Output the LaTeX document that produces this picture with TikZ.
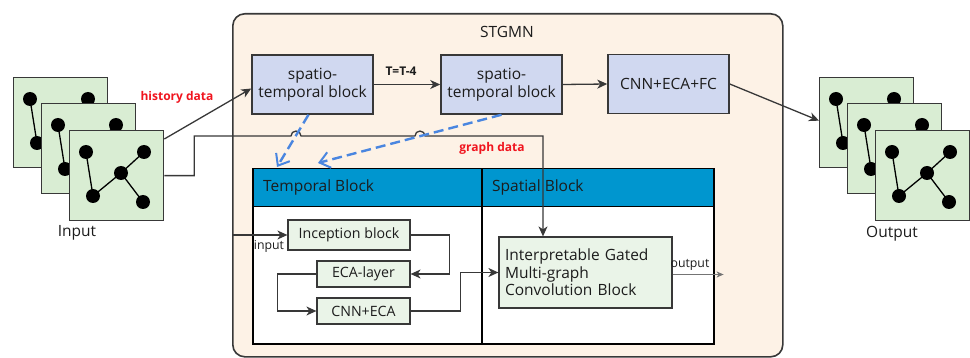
\documentclass[tikz,border=0pt]{standalone}
\usepackage{fontspec}
\setmainfont{Open Sans}
\usetikzlibrary{arrows.meta,calc}

\definecolor{peach}{HTML}{FDF2E6}
\definecolor{blockblue}{HTML}{D0D8F0}
\definecolor{cardgreen}{HTML}{D9EDD3}
\definecolor{boxgreen}{HTML}{EAF4E8}
\definecolor{hdrblue}{HTML}{0096CF}
\definecolor{ink}{HTML}{383838}
\definecolor{txt}{HTML}{1C1C1C}
\definecolor{dashblue}{HTML}{4A86E0}
\definecolor{hotred}{HTML}{F0141E}

\newcommand{\fs}[1]{\fontsize{#1}{17.5}\selectfont}

\begin{document}
\begin{tikzpicture}[x=1pt,y=-1pt,
  line/.style={draw=ink,line width=1.3pt},
  arr/.style={line,-{Stealth[length=10pt,width=9pt,inset=3pt]}},
  stblock/.style={draw=ink,line width=1.5pt,fill=blockblue,minimum width=121pt,
    minimum height=59pt,align=center,inner sep=0pt,font=\fs{15.5},text=txt},
  card/.style={draw=ink,line width=1.3pt,fill=cardgreen,minimum width=94pt,
    minimum height=90pt,inner sep=0pt},
  gbox/.style={draw=ink,line width=1.2pt,fill=boxgreen,inner sep=0pt,font=\fs{14.2},text=txt},
  hdr/.style={draw=black,line width=1.5pt,fill=hdrblue,inner sep=0pt},
  body/.style={draw=black,line width=1.5pt,fill=white,inner sep=0pt},
  lbl/.style={inner sep=0pt,text=txt},
  redlbl/.style={inner sep=0pt,text=hotred,font=\fs{12}\bfseries},
  bluedash/.style={draw=dashblue,line width=2.4pt,dash pattern=on 10pt off 5pt,
    -{Straight Barb[length=10pt,width=16pt,line width=2pt]}},
]
\useasboundingbox (0,0) rectangle (970,358);

% graph snapshot cards
\newcommand{\graphcard}[3]{%
  \node[card,anchor=north west] (#1) at (#2,#3) {};
  \begin{scope}[shift={(#2,#3)}]
    \draw[black,line width=1.3pt] (17,22) -- (24,66) -- (52,43) -- (75,22)
      (52,43) -- (74,72);
    \fill[black] (17,22) circle[radius=7pt] (75,22) circle[radius=7pt]
      (52,43) circle[radius=7pt] (24,66) circle[radius=7pt]
      (74,72) circle[radius=7pt];
  \end{scope}}

\graphcard{in1}{13}{77}
\graphcard{in2}{41}{103}
\graphcard{in3}{69}{130}
\node[lbl,font=\fs{15.5}] (inputlbl) at (77,233) {Input};

\graphcard{out1}{819}{77}
\graphcard{out2}{847}{103}
\graphcard{out3}{875}{130}
\node[lbl,font=\fs{15.5}] (outputlbl) at (892,234) {Output};

% STGMN frame
\node[draw=ink,line width=1.6pt,fill=peach,rounded corners=12pt,
  minimum width=550pt,minimum height=343pt,anchor=north west,inner sep=0pt]
  (stg) at (232,13) {};
\node[lbl,font=\fs{15.5}] (stglbl) at (507,32) {STGMN};

% top row
\node[stblock] (b1) at (312.5,84.5) {spatio-\\temporal block};
\node[stblock] (b2) at (501.5,84.5) {spatio-\\temporal block};
\node[stblock] (b3) at (668.5,84) {CNN+ECA+FC};

\draw[arr] ($(in3.north east)+(0,9)$) -- ($(b1.west)+(0,4)$);
\node[redlbl] (histlbl) at (177,97) {history data};
\draw[arr] (b1.east) -- (b2.west);
\node[lbl,font=\fs{12}\bfseries] (tlbl) at (401,71) {T=T-4};
\draw[arr] (b2.east) -- (b3.west);
\draw[arr] (b3.east) -- ($(out1.west)+(0,-2)$);

% temporal / spatial table
\node[hdr,anchor=north west,minimum width=229pt,minimum height=38pt] (th) at (252,168) {};
\node[hdr,anchor=north west,minimum width=232pt,minimum height=38pt] (sh) at (481,168) {};
\node[body,anchor=north west,minimum width=229pt,minimum height=137pt] (tb) at (252,206) {};
\node[body,anchor=north west,minimum width=232pt,minimum height=137pt] (sb) at (481,206) {};
\node[lbl,anchor=west,font=\fs{15.5}] (thl) at (263,187) {Temporal Block};
\node[lbl,anchor=west,font=\fs{15.5}] (shl) at (492,187) {Spatial Block};

\node[gbox,minimum width=122pt,minimum height=30pt] (inc) at (349,235) {Inception block};
\node[gbox,minimum width=93pt,minimum height=26pt] (eca) at (363.5,274) {ECA-layer};
\node[gbox,minimum width=93pt,minimum height=26pt] (cnn) at (363.5,311) {CNN+ECA};
\node[gbox,minimum width=173pt,minimum height=71pt,text width=161pt,align=left,
  inner xsep=6pt,font=\fs{15.5}] (igm) at (585.5,272.5)
  {Interpretable Gated\\Multi-graph\\Convolution Block};

\draw[arr] (stg.west |- inc.west) -- (inc.west);
\node[lbl,font=\fs{12.3}] (inlbl) at (269,246) {input};
\draw[arr] (inc.east) -- ++(39,0) |- (eca.east);
\draw[arr] (eca.west) -- ++(-39,0) |- (cnn.west);
\draw[arr] (cnn.east) -- ++(50,0) |- (igm.west);
\coordinate (outend) at ($(igm.east)+(51,2)$);
\draw[draw=ink!70,line width=1pt,-{Stealth[length=7pt,width=6pt,inset=2pt]}]
  ($(igm.east)+(0,2)$) -- (outend);
\node[lbl,font=\fs{12.3}] (outlbl) at (690,265) {output};

% graph data feed with line hops
\coordinate (gx) at (543,136);
\draw[arr] (in3.east) -- ++(30,0) |- (291,136)
  arc[start angle=180,end angle=0,radius=5pt] -- (415,136)
  arc[start angle=180,end angle=0,radius=5pt] -- (gx) -- (gx |- igm.north);
\node[redlbl] (graphlbl) at (492,148) {graph data};

% dashed feedback from the spatio-temporal blocks
\coordinate (tA) at (277,167);
\coordinate (tB) at (318,163);
\draw[bluedash] ($(b1.south)+(-4,0)$) -- (tA);
\draw[bluedash] ($(b2.south)+(0,0)$) -- (tB);
\end{tikzpicture}
\end{document}
